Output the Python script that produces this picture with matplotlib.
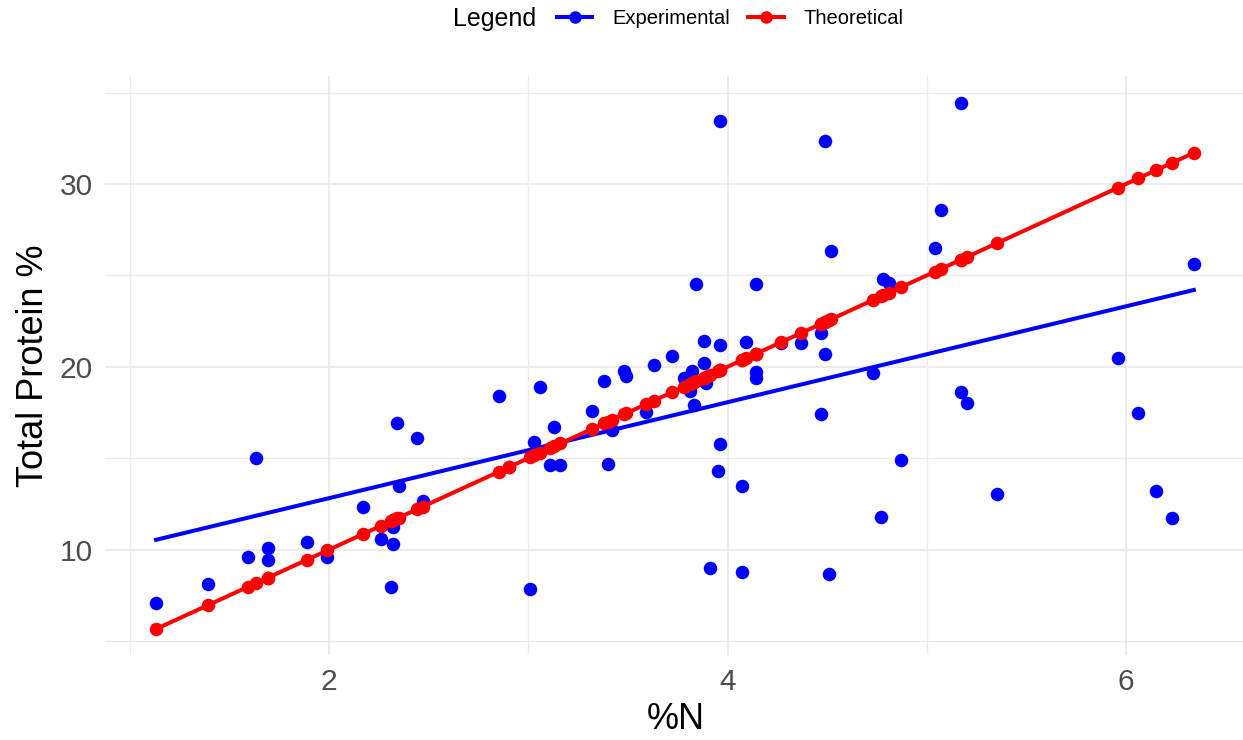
import numpy as np
import matplotlib
matplotlib.use("Agg")
import matplotlib.pyplot as plt
from matplotlib.lines import Line2D
from matplotlib.ticker import MultipleLocator

plt.rcParams['font.family'] = ['Liberation Sans', 'DejaVu Sans']

# %N values (shared by both series)
nitrogen = [1.13, 1.39, 1.59, 1.63, 1.69, 1.69, 1.89, 1.99, 2.17, 2.26,
            2.31, 2.32, 2.32, 2.34, 2.35, 2.44, 2.47, 2.85, 2.90, 3.01,
            3.03, 3.06, 3.11, 3.13, 3.16, 3.32, 3.38, 3.40, 3.42, 3.48,
            3.49, 3.59, 3.63, 3.72, 3.78, 3.81, 3.82, 3.83, 3.84, 3.88,
            3.88, 3.89, 3.91, 3.95, 3.96, 3.96, 3.96, 4.07, 4.07, 4.09,
            4.14, 4.14, 4.14, 4.27, 4.37, 4.47, 4.47, 4.49, 4.49, 4.51,
            4.52, 4.73, 4.77, 4.78, 4.81, 4.87, 5.04, 5.07, 5.17, 5.17,
            5.20, 5.35, 5.96, 6.06, 6.15, 6.23, 6.34]

# measured total protein %
experimental = [7.1, 8.1, 9.6, 15.0, 10.1, 9.45, 10.4, 9.6, 12.3, 10.6,
                7.95, 10.3, 11.25, 16.9, 13.5, 16.1, 12.65, 18.4, 14.5, 7.85,
                15.9, 18.9, 14.65, 16.7, 14.65, 17.6, 19.2, 14.7, 16.55, 19.75,
                19.5, 17.5, 20.1, 20.6, 19.4, 18.65, 19.75, 17.9, 24.5, 21.4,
                20.2, 19.1, 9.0, 14.3, 15.75, 21.2, 33.45, 13.45, 8.75, 21.35,
                19.7, 19.4, 24.5, 21.3, 21.3, 21.85, 17.4, 20.7, 32.35, 8.65,
                26.35, 19.65, 11.8, 24.8, 24.6, 14.9, 26.5, 28.6, 34.45, 18.6,
                18.0, 13.05, 20.5, 17.45, 13.2, 11.75, 25.6]

# theoretical total protein %
theoretical = [5.65, 6.95, 7.95, 8.15, 8.45, 8.45, 9.45, 9.95, 10.85, 11.3,
               11.55, 11.6, 11.6, 11.7, 11.75, 12.2, 12.35, 14.25, 14.5, 15.05,
               15.15, 15.3, 15.55, 15.65, 15.8, 16.6, 16.9, 17.0, 17.1, 17.4,
               17.45, 17.95, 18.15, 18.6, 18.9, 19.05, 19.1, 19.15, 19.2, 19.4,
               19.4, 19.45, 19.55, 19.75, 19.8, 19.8, 19.8, 20.35, 20.35, 20.45,
               20.7, 20.7, 20.7, 21.35, 21.85, 22.35, 22.35, 22.45, 22.45, 22.55,
               22.6, 23.65, 23.85, 23.9, 24.05, 24.35, 25.2, 25.35, 25.85, 25.85,
               26.0, 26.75, 29.8, 30.3, 30.75, 31.15, 31.7]

x = np.array(nitrogen)
y_exp = np.array(experimental)
y_th = np.array(theoretical)

fig = plt.figure(figsize=(12.43, 7.4), dpi=100)
ax = fig.add_axes([105 / 1243, 85 / 740, 1141 / 1243, 579.3 / 740])

# linear fit of the experimental data
slope, intercept = np.polyfit(x, y_exp, 1)
xf = np.array([x.min(), x.max()])

ax.scatter(x, y_exp, s=95, color='#0000FF', linewidths=0, zorder=3)
ax.plot(xf, slope * xf + intercept, color='#0000FF', lw=2.9, zorder=4)
order = np.argsort(x)
ax.plot(x[order], y_th[order], color='#FF0000', lw=2.9, zorder=5)
ax.scatter(x, y_th, s=95, color='#FF0000', linewidths=0, zorder=6)

ax.set_xlim(0.874, 0.874 + 1141 / 199.2)
ax.set_ylim(4.23, 35.92)
ax.xaxis.set_major_locator(MultipleLocator(2))
ax.xaxis.set_minor_locator(MultipleLocator(1))
ax.yaxis.set_major_locator(MultipleLocator(10))
ax.yaxis.set_minor_locator(MultipleLocator(5))
ax.grid(which='major', color='#EBEBEB', lw=1.3)
ax.grid(which='minor', color='#EBEBEB', lw=0.9)
ax.set_axisbelow(True)
for s in ax.spines.values():
    s.set_visible(False)
ax.tick_params(which='both', length=0)
ax.tick_params(axis='both', labelsize=21.5, labelcolor='#4D4D4D')
ax.tick_params(axis='x', pad=9)
ax.tick_params(axis='y', pad=9)

ax.set_xlabel('%N', fontsize=26, labelpad=5)
ax.set_ylabel('Total Protein %', fontsize=26, labelpad=6)

fig.text(453 / 1243, 1 - 19 / 740, 'Legend', fontsize=18, va='center', ha='left')
handles = [Line2D([], [], color='#0000FF', lw=2.9, marker='o', markersize=8),
           Line2D([], [], color='#FF0000', lw=2.9, marker='o', markersize=8)]
fig.legend(handles, ['Experimental', 'Theoretical'], loc='center left',
           bbox_to_anchor=(557 / 1243, 1 - 19 / 740), ncol=2, frameon=False,
           fontsize=14.5, handlelength=1.75, handletextpad=1.0,
           columnspacing=0.9, borderpad=0, borderaxespad=0)

fig.savefig('out.png', dpi=100)
